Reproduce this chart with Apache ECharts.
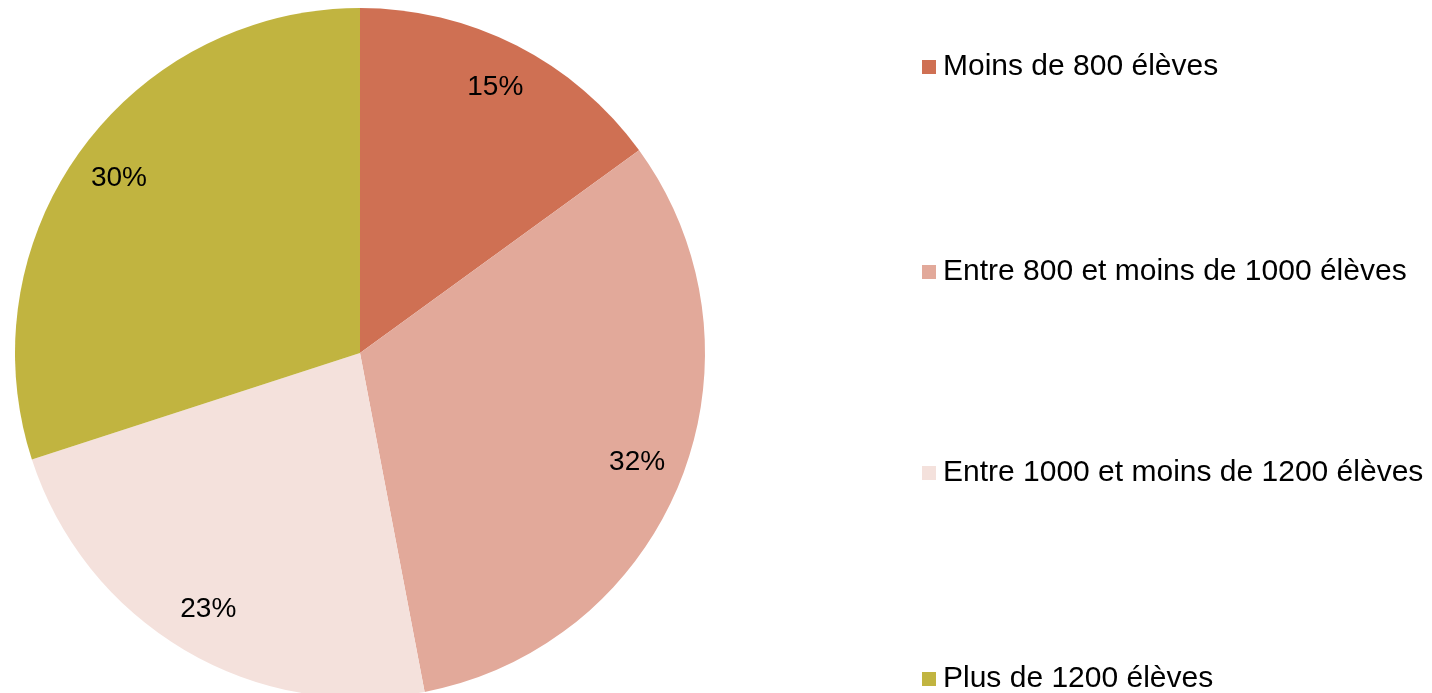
<!DOCTYPE html>
<html>
<head>
  <meta charset="utf-8"/>
  <script src="https://cdn.jsdelivr.net/npm/echarts@6/dist/echarts.min.js"></script>
  <style>
    html, body { margin: 0; padding: 0; background: #fff; }
    #chartmain { width: 1432px; height: 693px; }
  </style>
</head>
<body>
  <div id="chartmain"></div>
  <script type="text/javascript">
    // categories et parts (%)
    var categories = ['Moins de 800 élèves', 'Entre 800 et moins de 1000 élèves', 'Entre 1000 et moins de 1200 élèves', 'Plus de 1200 élèves'];
    var values = [15, 32, 23, 30];
    var colors = ['#CF7053', '#E2A99A', '#F4E1DC', '#C1B440'];
    var legendTops = [46, 251, 452, 658];

    var data = [];
    for (var i = 0; i < categories.length; i++) {
      data.push({ name: categories[i], value: values[i], itemStyle: { color: colors[i] } });
    }

    // une légende par entrée, pour garder l'espacement de l'original
    var legends = categories.map(function (c, i) {
      return {
        orient: 'vertical',
        left: 917,
        top: legendTops[i],
        itemWidth: 14,
        itemHeight: 14,
        icon: 'rect',
        data: [c],
        textStyle: { fontFamily: 'Liberation Sans, Arial', fontSize: 30, color: '#000', lineHeight: 32, padding: [0, 0, 0, 2] }
      };
    });

    var option = {
      animation: false,
      legend: legends,
      series: [
        {
          name: 'parts',
          type: 'pie',
          center: [360, 353],
          radius: [0, 345],
          startAngle: 90,
          clockwise: true,
          label: { show: false },
          labelLine: { show: false },
          itemStyle: { borderWidth: 0 },
          emphasis: { disabled: true },
          data: data
        },
        {
          // anneau transparent pour placer les étiquettes
          name: 'etiquettes',
          type: 'pie',
          center: [360, 353],
          radius: [245, 345],
          startAngle: 90,
          clockwise: true,
          silent: true,
          legendHoverLink: false,
          itemStyle: { color: 'transparent', borderWidth: 0 },
          label: {
            show: true,
            position: 'inside',
            formatter: '{c}%',
            fontFamily: 'Liberation Sans, Arial',
            fontSize: 28,
            color: '#000'
          },
          labelLine: { show: false },
          emphasis: { disabled: true },
          data: values.map(function (v, i) { return { name: categories[i] + ' ', value: v }; })
        }
      ]
    };

    var myChart = echarts.init(document.getElementById('chartmain'));
    myChart.setOption(option);
  </script>
</body>
</html>
